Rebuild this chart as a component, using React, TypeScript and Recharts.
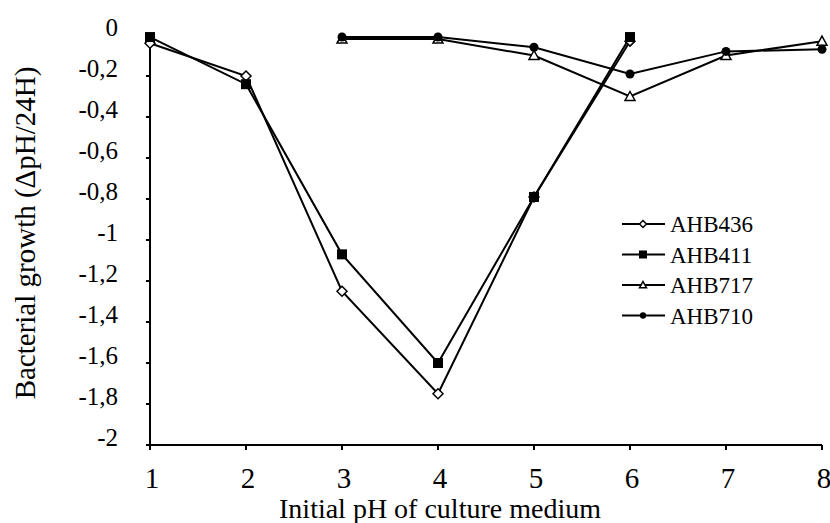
import { LineChart, Line, XAxis, YAxis, Label } from 'recharts'

// initial pH of the culture medium
const phValues = [1, 2, 3, 4, 5, 6, 7, 8]

// bacterial growth (delta pH / 24h)
const ahb436 = [-0.04, -0.2, -1.25, -1.75, -0.79, -0.03, null, null]
const ahb411 = [-0.01, -0.24, -1.07, -1.6, -0.79, -0.01, null, null]
const ahb717 = [null, null, -0.02, -0.02, -0.1, -0.3, -0.1, -0.03]
const ahb710 = [null, null, -0.01, -0.01, -0.06, -0.19, -0.08, -0.07]

const seriesNames = ['AHB436', 'AHB411', 'AHB717', 'AHB710']
const yTicks = [0, -0.2, -0.4, -0.6, -0.8, -1, -1.2, -1.4, -1.6, -1.8, -2]
const xTicks = phValues

const data = phValues.map((ph, i) => ({
  ph,
  AHB436: ahb436[i],
  AHB411: ahb411[i],
  AHB717: ahb717[i],
  AHB710: ahb710[i]
}))

const FONT = "'Liberation Serif', 'Times New Roman', serif"

function marker(name: string, cx: number, cy: number, s: number) {
  switch (name) {
    case 'AHB436':
      return (
        <path
          d={`M${cx},${cy - s} L${cx + s},${cy} L${cx},${cy + s} L${cx - s},${cy} Z`}
          fill="#fff"
          stroke="#000"
          strokeWidth={1.5}
        />
      )
    case 'AHB411':
      return <rect x={cx - s} y={cy - s} width={s * 2} height={s * 2} fill="#000" />
    case 'AHB717':
      return (
        <path
          d={`M${cx},${cy - s} L${cx + s},${cy + s * 0.8} L${cx - s},${cy + s * 0.8} Z`}
          fill="#fff"
          stroke="#000"
          strokeWidth={1.5}
        />
      )
    default:
      return <circle cx={cx} cy={cy} r={s * 0.9} fill="#000" />
  }
}

const makeDot = (name: string) => (props: any) => {
  const { cx, cy, index, value } = props
  if (cx == null || cy == null || value == null) return <g key={`${name}-${index}`} />
  return <g key={`${name}-${index}`}>{marker(name, cx, cy, 5)}</g>
}

function YTick({ x, y, payload }: any) {
  const label = String(payload.value).replace('.', ',')
  return (
    <text x={x} y={y - 8} dy="0.35em" textAnchor="end" fontSize={25} style={{ fontFamily: FONT }} fill="#000">
      {label}
    </text>
  )
}

function XTick({ x, y, payload }: any) {
  return (
    <text x={x + 2} y={y} dy="0.71em" textAnchor="middle" fontSize={29} style={{ fontFamily: FONT }} fill="#000">
      {payload.value}
    </text>
  )
}

function LegendBox() {
  const rowH = 30.5
  return (
    <svg
      width={170}
      height={rowH * seriesNames.length + 4}
      style={{ position: 'absolute', left: 618, top: 209 }}
    >
      {seriesNames.map((name, i) => {
        const cy = 15 + i * rowH
        return (
          <g key={name}>
            <line x1={4} x2={47} y1={cy} y2={cy} stroke="#000" strokeWidth={2} />
            {marker(name, 25, cy, name === 'AHB411' ? 4 : 3.5)}
            <text x={52} y={cy} dy="0.35em" fontSize={23} style={{ fontFamily: FONT }} fill="#000">
              {name}
            </text>
          </g>
        )
      })}
    </svg>
  )
}

export default function App() {
  return (
    <div style={{ position: 'absolute', left: 0, top: 0, width: 830, height: 523, background: '#fff' }}>
      <LineChart width={830} height={523} data={data} margin={{ top: 35, right: 8, bottom: 0, left: 0 }}>
        <XAxis
          dataKey="ph"
          type="number"
          domain={[1, 8]}
          ticks={xTicks}
          height={78}
          stroke="#000"
          strokeWidth={2}
          tickSize={5}
          tickMargin={17}
          tick={<XTick />}
        >
          <Label
            content={({ viewBox }: any) => (
              <text
                x={viewBox.x + viewBox.width / 2 - 46}
                y={viewBox.y + 73}
                textAnchor="middle"
                fontSize={28}
                style={{ fontFamily: FONT }}
                fill="#000"
              >
                Initial pH of culture medium
              </text>
            )}
          />
        </XAxis>
        <YAxis
          type="number"
          domain={[-2, 0]}
          ticks={yTicks}
          width={150}
          stroke="#000"
          strokeWidth={2}
          tickSize={4}
          tickMargin={28}
          tick={<YTick />}
        >
          <Label
            content={({ viewBox }: any) => {
              const cx = viewBox.x + 25
              const cy = viewBox.y + viewBox.height / 2 - 7
              return (
                <text
                  x={cx}
                  y={cy}
                  dy="0.35em"
                  textAnchor="middle"
                  transform={`rotate(-90, ${cx}, ${cy})`}
                  fontSize={29}
                  style={{ fontFamily: FONT }}
                  fill="#000"
                >
                  Bacterial growth (ΔpH/24H)
                </text>
              )
            }}
          />
        </YAxis>
        {seriesNames.map((name) => (
          <Line
            key={name}
            dataKey={name}
            name={name}
            stroke="#000"
            strokeWidth={2}
            dot={makeDot(name)}
            activeDot={false}
            isAnimationActive={false}
          />
        ))}
      </LineChart>
      <LegendBox />
    </div>
  )
}
